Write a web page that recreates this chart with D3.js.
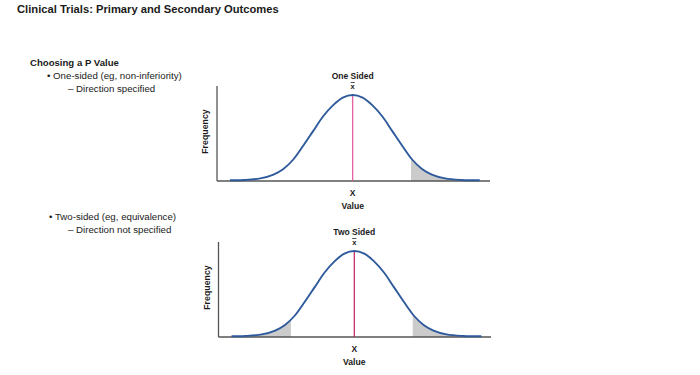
<!DOCTYPE html>
<html><head><meta charset="utf-8">
<script src="https://cdn.jsdelivr.net/npm/d3@7"></script>
<style>
body{margin:0;background:#fff;}
svg{font-family:"Liberation Sans",Arial,sans-serif;}
</style></head>
<body><svg id="c" width="700" height="375"></svg>
<script>
// Curve shape: x in value units (mean = 0), frequency in % of peak
const curveX = [-3.72,-3.3,-2.8,-2.4,-2.1,-1.8,-1.5,-1.2,-0.9,-0.6,-0.3,0,0.3,0.6,0.9,1.2,1.5,1.8,2.1,2.4,2.8,3.3,3.85];
const curveY = [0.8,1.2,3,7.5,14,25,41,58,75,88,97,100,97,88,75,58,41,25,14,7.5,3,1.2,0.8];
const panelTitles = ["One Sided","Two Sided"];
const tailLeft = [null,-1.92];   // shaded left tail ends at
const tailRight = [1.77,1.77];   // shaded right tail starts at
const meanValue = 0;
const xAxisLabel = "X";
const xTitle = "Value";
const yTitle = "Frequency";

const svg = d3.select("#c");
const txt = "#1a1a1a";

svg.append("text").attr("x",17).attr("y",13).attr("font-size",11.2).attr("font-weight","bold").attr("fill",txt)
  .text("Clinical Trials: Primary and Secondary Outcomes");
svg.append("text").attr("x",30).attr("y",66).attr("font-size",9.6).attr("font-weight","bold").attr("fill",txt)
  .text("Choosing a P Value");
const lines = [
  {x:47,y:79,t:"\u2022 One-sided (eg, non-inferiority)"},
  {x:68,y:92,t:"\u2013 Direction specified"},
  {x:49,y:220,t:"\u2022 Two-sided (eg, equivalence)"},
  {x:68,y:233,t:"\u2013 Direction not specified"}
];
lines.forEach(l=>svg.append("text").attr("x",l.x).attr("y",l.y).attr("font-size",9.7).attr("fill",txt).text(l.t));

const data = curveX.map((x,i)=>({x, y:curveY[i]}));

const panels = [
  {left:217, right:490, top:86, base:181, meanX:352.7, meanColor:"#e0559c"},
  {left:218.5, right:491, top:242, base:337, meanX:354.3, meanColor:"#c41d62"}
];

panels.forEach((p,i)=>{
  const unit = 33;
  const x = d3.scaleLinear().domain([(p.left-p.meanX)/unit,(p.right-p.meanX)/unit]).range([p.left,p.right]);
  const y = d3.scaleLinear().domain([0,(p.base-p.top)/86*100]).range([p.base,p.top]);
  const g = svg.append("g");
  const cv = d3.curveCatmullRom.alpha(0.5);
  const area = d3.area().x(d=>x(d.x)).y0(y(0)).y1(d=>y(d.y)).curve(cv);
  const line = d3.line().x(d=>x(d.x)).y(d=>y(d.y)).curve(cv);
  const clipR = "clipR"+i, clipL = "clipL"+i;
  const defs = svg.append("defs");
  defs.append("clipPath").attr("id",clipR).append("rect")
    .attr("x",x(tailRight[i])).attr("y",p.top).attr("width",p.right-x(tailRight[i])).attr("height",p.base-p.top);
  g.append("path").datum(data).attr("d",area).attr("fill","#cbcbcb").attr("clip-path",`url(#${clipR})`);
  if(tailLeft[i]!==null){
    defs.append("clipPath").attr("id",clipL).append("rect")
      .attr("x",p.left).attr("y",p.top).attr("width",x(tailLeft[i])-p.left).attr("height",p.base-p.top);
    g.append("path").datum(data).attr("d",area).attr("fill","#cbcbcb").attr("clip-path",`url(#${clipL})`);
  }
  // axes
  g.append("line").attr("x1",p.left).attr("x2",p.left).attr("y1",p.top).attr("y2",p.base).attr("stroke","#555").attr("stroke-width",1.3);
  g.append("line").attr("x1",p.left).attr("x2",p.right).attr("y1",p.base).attr("y2",p.base).attr("stroke","#555").attr("stroke-width",1.3);
  // mean line
  g.append("line").attr("x1",x(meanValue)).attr("x2",x(meanValue)).attr("y1",y(100)).attr("y2",p.base)
    .attr("stroke",p.meanColor).attr("stroke-width",1.2);
  // curve
  g.append("path").datum(data).attr("d",line).attr("fill","none").attr("stroke","#2e5a9c").attr("stroke-width",1.9);
  // labels
  const cx = x(meanValue);
  g.append("text").attr("x",cx).attr("y",p.top-7).attr("text-anchor","middle").attr("font-size",8.5).attr("font-weight","bold").attr("fill",txt).text(panelTitles[i]);
  g.append("text").attr("x",cx).attr("y",p.top+3).attr("text-anchor","middle").attr("font-size",7.5).attr("font-weight","bold").attr("fill",txt)
    .attr("text-decoration","overline").text("x");
  g.append("text").attr("x",cx).attr("y",p.base+15).attr("text-anchor","middle").attr("font-size",8.5).attr("font-weight","bold").attr("fill",txt).text(xAxisLabel);
  g.append("text").attr("x",cx).attr("y",p.base+28).attr("text-anchor","middle").attr("font-size",8.6).attr("font-weight","bold").attr("fill",txt).text(xTitle);
  g.append("text").attr("transform",`translate(${p.left-9},${(p.top+p.base)/2-2}) rotate(-90)`).attr("text-anchor","middle")
    .attr("font-size",8.8).attr("font-weight","bold").attr("fill",txt).text(yTitle);
});
</script></body></html>
